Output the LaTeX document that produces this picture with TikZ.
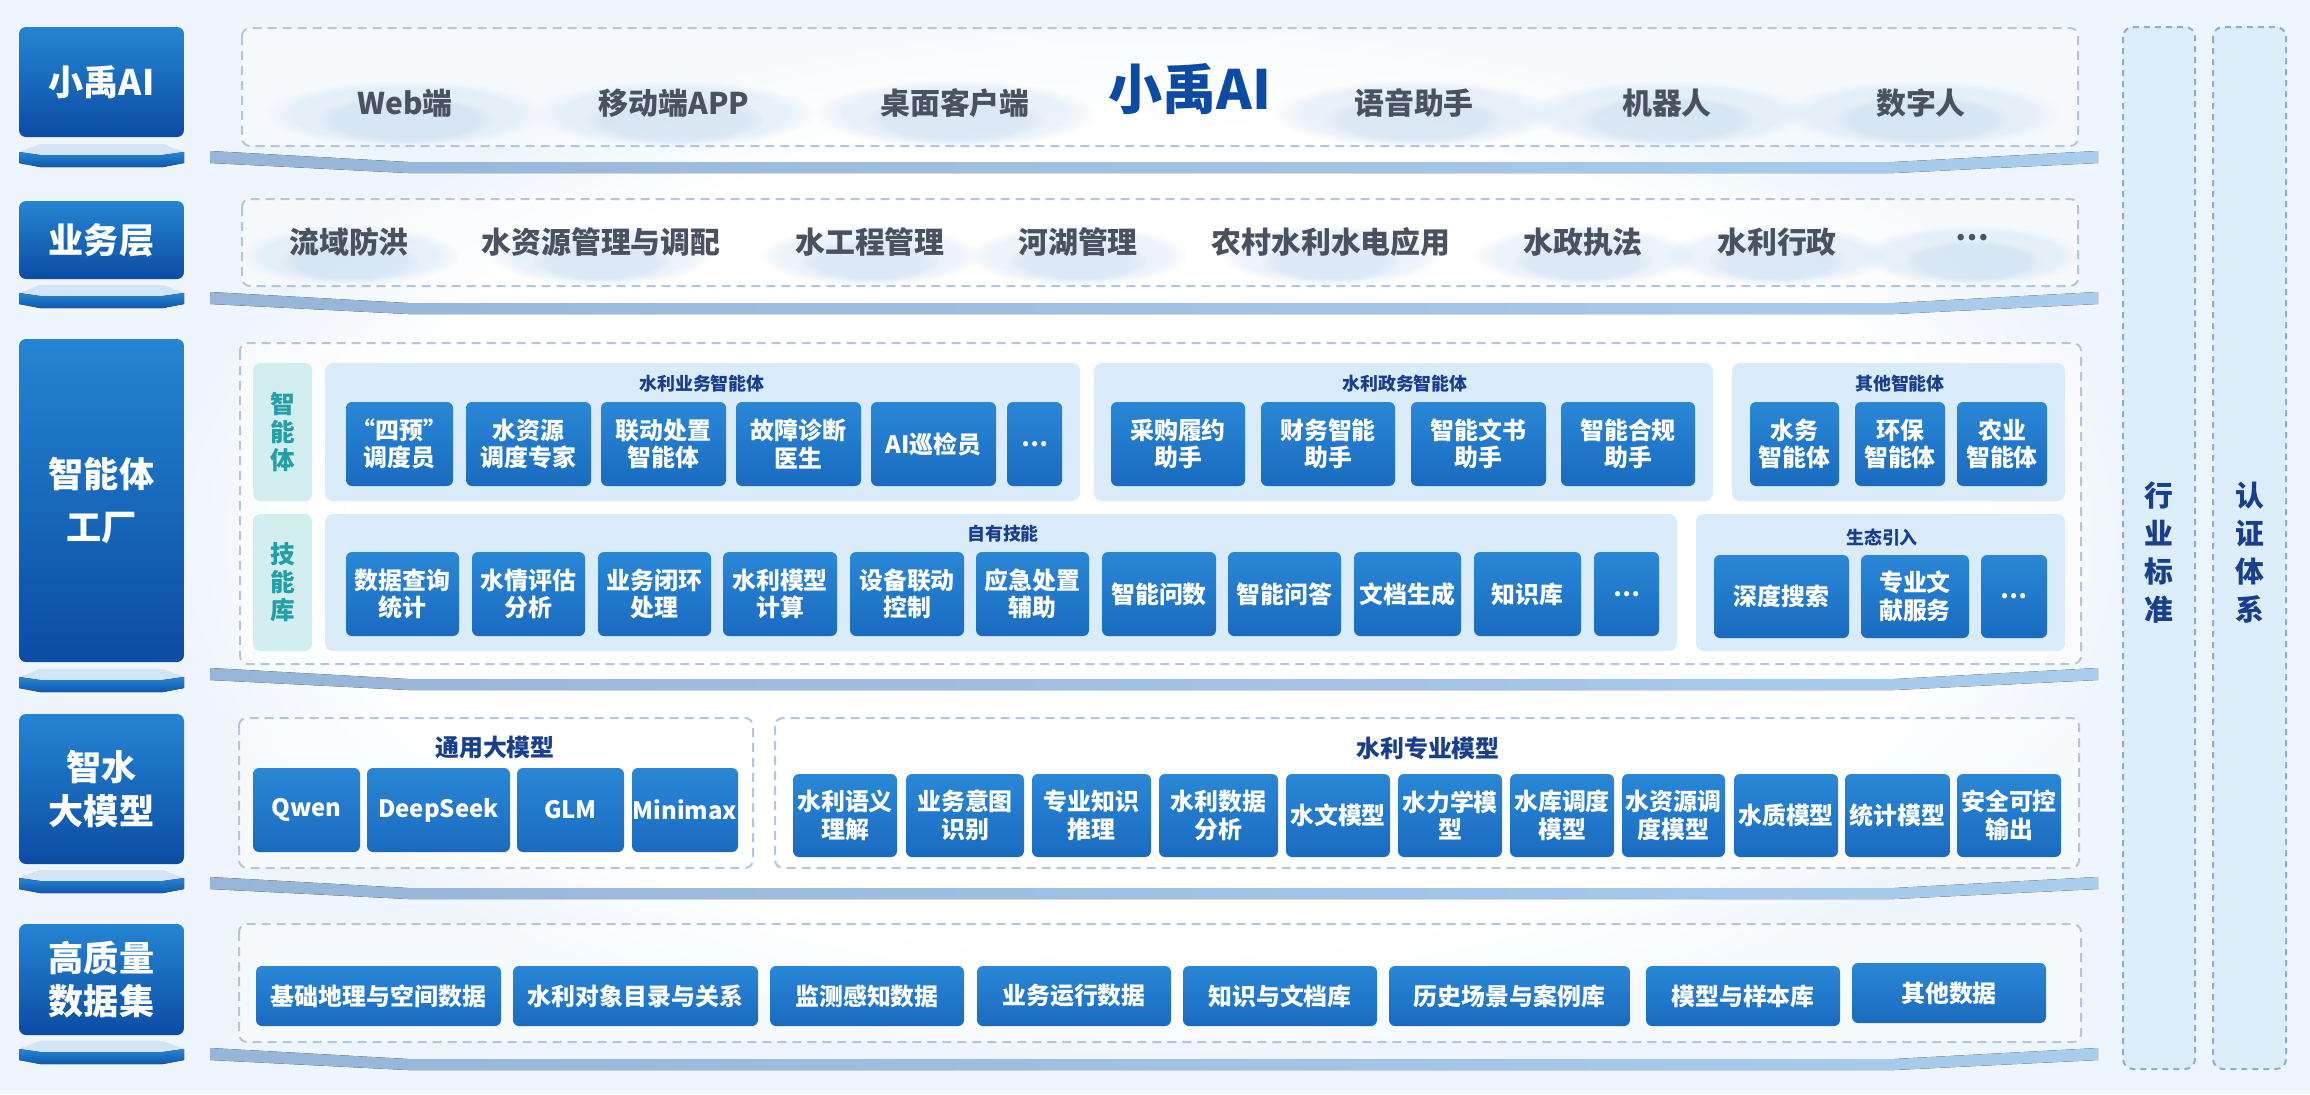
\documentclass[tikz,border=0pt]{standalone}
\usepackage{fontspec}
\setmainfont{Noto Sans CJK SC}
\usetikzlibrary{fadings}
\definecolor{bgblue}{HTML}{EEF5FC}
\definecolor{dashgray}{HTML}{B3C6DD}
\definecolor{shelfl}{HTML}{97B5D8}
\definecolor{shelfr}{HTML}{AACDEE}
\definecolor{labtop}{HTML}{2585D2}
\definecolor{labbot}{HTML}{0B4CA4}
\definecolor{plinthtop}{HTML}{D2E4F6}
\definecolor{btntop}{HTML}{2A87D6}
\definecolor{btnbot}{HTML}{1A6BC0}
\definecolor{panelblue}{HTML}{DAEBFA}
\definecolor{sidefill}{HTML}{D3EEF0}
\definecolor{sideteal}{HTML}{22A0A8}
\definecolor{titleblue}{HTML}{173F8E}
\definecolor{rowgray}{HTML}{4A5262}
\definecolor{bigblue}{HTML}{0C4BA3}
\definecolor{colfill}{HTML}{DDEEFB}
\definecolor{colline}{HTML}{8AAED4}
\definecolor{cloud}{HTML}{A9C9EA}
\begin{document}
\begin{tikzpicture}[x=1cm, y=-1cm,
    lab/.style={rounded corners=0.07cm, top color=labtop, bottom color=labbot, text=white,
        align=center, inner sep=0pt, font=\bfseries\fontsize{10}{12.3}\selectfont},
    btn/.style={rounded corners=0.06cm, top color=btntop, bottom color=btnbot, text=white,
        align=center, inner sep=0pt, font=\bfseries\fontsize{6.8}{7.8}\selectfont},
    frame/.style={draw=dashgray, line width=0.02cm, dash pattern=on 0.09cm off 0.06cm,
        rounded corners=0.08cm, fill=white, fill opacity=0.55},
    panel/.style={fill=panelblue, rounded corners=0.08cm},
    puff/.style={cloud, opacity=0.22, path fading=circle with fuzzy edge 20 percent},
    rowtext/.style={text=rowgray, font=\bfseries\fontsize{8.5}{10}\selectfont},
    grptitle/.style={text=titleblue, font=\bfseries\fontsize{5.1}{6}\selectfont},
    mdltitle/.style={text=titleblue, font=\bfseries\fontsize{6.8}{8}\selectfont},
    sidelab/.style={text=sideteal, align=center, font=\bfseries\fontsize{7}{8}\selectfont},
    coltext/.style={text=titleblue, align=center, font=\bfseries\fontsize{8.2}{10.8}\selectfont}]
    \useasboundingbox (0,0) rectangle (23.10,10.94);
    \fill[bgblue] (0,0) rectangle (23.10,10.94);
    \fill[white, path fading=circle with fuzzy edge 20 percent] (1.5,0.2) rectangle (21.5,10.6);

    % side columns
    \draw[fill=colfill, draw=colline, line width=0.02cm, dash pattern=on 0.06cm off 0.05cm, rounded corners=0.1cm] (21.23,0.27) rectangle (21.95,10.69);
    \draw[fill=colfill, draw=colline, line width=0.02cm, dash pattern=on 0.06cm off 0.05cm, rounded corners=0.1cm] (22.13,0.27) rectangle (22.86,10.69);
    \node[coltext] (std) at (21.59,5.53) {行\\业\\标\\准};
    \node[coltext] (cert) at (22.495,5.53) {认\\证\\体\\系};

    % shelves and plinths
    \foreach \t in {1.51,2.92,6.68,8.77,10.48}
        \fill[left color=shelfl, right color=shelfr] (2.10,\t) -- (4.08,\t+0.11) -- (18.94,\t+0.11) -- (20.98,\t)
            -- (20.98,\t+0.12) -- (18.94,\t+0.22) -- (4.08,\t+0.22) -- (2.10,\t+0.12) -- cycle;
    \foreach \t in {1.44,2.85,6.69,8.70,10.41} {
        \fill[plinthtop] (0.19,\t+0.08) -- (0.40,\t) -- (1.63,\t) -- (1.84,\t+0.08)
            -- (1.63,\t+0.11) -- (0.40,\t+0.11) -- cycle;
        \fill[top color=labtop, bottom color=labbot!80!labtop] (0.19,\t+0.08) -- (0.40,\t+0.11) -- (1.63,\t+0.11) -- (1.84,\t+0.08)
            -- (1.84,\t+0.19) -- (1.63,\t+0.23) -- (0.40,\t+0.23) -- (0.19,\t+0.19) -- cycle;
    }

    % layer labels
    \node[lab, minimum width=1.65cm, minimum height=1.10cm] (lxy) at (1.015,0.82) {小禹AI};
    \node[lab, minimum width=1.65cm, minimum height=0.78cm] (lyw) at (1.015,2.40) {业务层};
    \node[lab, minimum width=1.65cm, minimum height=3.23cm, font=\bfseries\fontsize{10}{15}\selectfont] (lagent) at (1.015,5.005) {智能体\\工厂};
    \node[lab, minimum width=1.65cm, minimum height=1.50cm] (lmodel) at (1.015,7.89) {智水\\大模型};
    \node[lab, minimum width=1.65cm, minimum height=1.11cm] (ldata) at (1.015,9.795) {高质量\\数据集};

    % frames
    \draw[frame] (2.42,0.28) rectangle (20.78,1.46);
    \draw[frame] (2.42,1.99) rectangle (20.78,2.86);
    \draw[frame] (2.40,3.43) rectangle (20.81,6.64);
    \draw[frame] (2.39,7.18) rectangle (7.53,8.68);
    \draw[frame] (7.75,7.18) rectangle (20.79,8.68);
    \draw[frame] (2.39,9.24) rectangle (20.81,10.42);

    % clouds
    \foreach \cx in {4.05,6.74,9.55,14.14,16.67,19.21} {
        \fill[puff] (\cx-1.4,0.80) rectangle (\cx+1.4,1.48);
        \fill[puff] (\cx-0.9,0.95) rectangle (\cx+0.9,1.44);
    }
    \foreach \cx in {3.49,6.01,8.70,10.78,13.31,15.83,17.77,19.72} {
        \fill[puff] (\cx-1.1,2.25) rectangle (\cx+1.1,2.86);
        \fill[puff] (\cx-0.7,2.40) rectangle (\cx+0.7,2.82);
    }

    % top row
    \node[rowtext] (web) at (4.05,1.03) {Web端};
    \node[rowtext] (mobile) at (6.74,1.03) {移动端APP};
    \node[rowtext] (desk) at (9.55,1.03) {桌面客户端};
    \node[text=bigblue, font=\bfseries\fontsize{15.4}{18}\selectfont] (xyai) at (11.90,0.89) {小禹AI};
    \node[rowtext] (voice) at (14.14,1.03) {语音助手};
    \node[rowtext] (robot) at (16.67,1.03) {机器人};
    \node[rowtext] (human) at (19.21,1.03) {数字人};

    % business row
    \node[rowtext] (flood) at (3.49,2.42) {流域防洪};
    \node[rowtext] (water) at (6.01,2.42) {水资源管理与调配};
    \node[rowtext] (proj) at (8.70,2.42) {水工程管理};
    \node[rowtext] (river) at (10.78,2.42) {河湖管理};
    \node[rowtext] (rural) at (13.31,2.42) {农村水利水电应用};
    \node[rowtext] (law) at (15.83,2.42) {水政执法};
    \node[rowtext] (admin) at (17.77,2.42) {水利行政};
    \node[rowtext] (more) at (19.72,2.38) {…};

    % agent factory
    \fill[sidefill, rounded corners=0.07cm] (2.53,3.63) rectangle (3.12,5.01);
    \fill[sidefill, rounded corners=0.07cm] (2.53,5.14) rectangle (3.12,6.51);
    \node[sidelab] (sagent) at (2.825,4.32) {智\\能\\体};
    \node[sidelab] (sskill) at (2.825,5.825) {技\\能\\库};
    \fill[panel] (3.25,3.63) rectangle (10.80,5.01);
    \fill[panel] (10.94,3.63) rectangle (17.13,5.01);
    \fill[panel] (17.32,3.63) rectangle (20.65,5.01);
    \fill[panel] (3.25,5.14) rectangle (16.77,6.51);
    \fill[panel] (16.96,5.14) rectangle (20.65,6.51);
    \node[grptitle] (tyw) at (7.02,3.84) {水利业务智能体};
    \node[grptitle] (tzw) at (14.05,3.84) {水利政务智能体};
    \node[grptitle] (tqt) at (19.00,3.84) {其他智能体};
    \node[grptitle] (tzy) at (10.03,5.34) {自有技能};
    \node[grptitle] (tst) at (18.82,5.38) {生态引入};

    \node[btn, minimum width=1.07cm, minimum height=0.84cm] (a1) at (3.995,4.44) {“四预”\\调度员};
    \node[btn, minimum width=1.25cm, minimum height=0.84cm] (a2) at (5.285,4.44) {水资源\\调度专家};
    \node[btn, minimum width=1.25cm, minimum height=0.84cm] (a3) at (6.635,4.44) {联动处置\\智能体};
    \node[btn, minimum width=1.25cm, minimum height=0.84cm] (a4) at (7.985,4.44) {故障诊断\\医生};
    \node[btn, minimum width=1.25cm, minimum height=0.84cm] (a5) at (9.335,4.44) {AI巡检员};
    \node[btn, minimum width=0.55cm, minimum height=0.84cm] (a6) at (10.345,4.44) {…};
    \node[btn, minimum width=1.34cm, minimum height=0.84cm] (b1) at (11.78,4.44) {采购履约\\助手};
    \node[btn, minimum width=1.34cm, minimum height=0.84cm] (b2) at (13.28,4.44) {财务智能\\助手};
    \node[btn, minimum width=1.35cm, minimum height=0.84cm] (b3) at (14.785,4.44) {智能文书\\助手};
    \node[btn, minimum width=1.34cm, minimum height=0.84cm] (b4) at (16.28,4.44) {智能合规\\助手};
    \node[btn, minimum width=0.89cm, minimum height=0.84cm] (c1) at (17.945,4.44) {水务\\智能体};
    \node[btn, minimum width=0.90cm, minimum height=0.84cm] (c2) at (19.00,4.44) {环保\\智能体};
    \node[btn, minimum width=0.90cm, minimum height=0.84cm] (c3) at (20.02,4.44) {农业\\智能体};

    \node[btn, minimum width=1.13cm, minimum height=0.84cm] (s1) at (4.025,5.94) {数据查询\\统计};
    \node[btn, minimum width=1.13cm, minimum height=0.84cm] (s2) at (5.285,5.94) {水情评估\\分析};
    \node[btn, minimum width=1.13cm, minimum height=0.84cm] (s3) at (6.545,5.94) {业务闭环\\处理};
    \node[btn, minimum width=1.14cm, minimum height=0.84cm] (s4) at (7.80,5.94) {水利模型\\计算};
    \node[btn, minimum width=1.14cm, minimum height=0.84cm] (s5) at (9.07,5.94) {设备联动\\控制};
    \node[btn, minimum width=1.13cm, minimum height=0.84cm] (s6) at (10.325,5.94) {应急处置\\辅助};
    \node[btn, minimum width=1.14cm, minimum height=0.84cm] (s7) at (11.59,5.94) {智能问数};
    \node[btn, minimum width=1.13cm, minimum height=0.84cm] (s8) at (12.845,5.94) {智能问答};
    \node[btn, minimum width=1.07cm, minimum height=0.84cm] (s9) at (14.075,5.94) {文档生成};
    \node[btn, minimum width=1.07cm, minimum height=0.84cm] (s10) at (15.275,5.94) {知识库};
    \node[btn, minimum width=0.65cm, minimum height=0.84cm] (s11) at (16.265,5.94) {…};
    \node[btn, minimum width=1.35cm, minimum height=0.83cm] (e1) at (17.815,5.965) {深度搜索};
    \node[btn, minimum width=1.08cm, minimum height=0.83cm] (e2) at (19.15,5.965) {专业文\\献服务};
    \node[btn, minimum width=0.66cm, minimum height=0.83cm] (e3) at (20.14,5.965) {…};

    % models
    \node[mdltitle] (tgen) at (4.95,7.47) {通用大模型};
    \node[mdltitle] (tpro) at (14.28,7.48) {水利专业模型};
    \node[btn, minimum width=1.07cm, minimum height=0.84cm] (g1) at (3.065,8.10) {Qwen};
    \node[btn, minimum width=1.43cm, minimum height=0.84cm] (g2) at (4.385,8.10) {DeepSeek};
    \node[btn, minimum width=1.07cm, minimum height=0.84cm] (g3) at (5.705,8.10) {GLM};
    \node[btn, minimum width=1.06cm, minimum height=0.84cm] (g4) at (6.85,8.10) {Minimax};
    \node[btn, minimum width=1.04cm, minimum height=0.83cm] (m1) at (8.45,8.155) {水利语义\\理解};
    \node[btn, minimum width=1.18cm, minimum height=0.83cm] (m2) at (9.65,8.155) {业务意图\\识别};
    \node[btn, minimum width=1.19cm, minimum height=0.83cm] (m3) at (10.915,8.155) {专业知识\\推理};
    \node[btn, minimum width=1.19cm, minimum height=0.83cm] (m4) at (12.185,8.155) {水利数据\\分析};
    \node[btn, minimum width=1.04cm, minimum height=0.83cm] (m5) at (13.38,8.155) {水文模型};
    \node[btn, minimum width=1.04cm, minimum height=0.83cm] (m6) at (14.50,8.155) {水力学模\\型};
    \node[btn, minimum width=1.04cm, minimum height=0.83cm] (m7) at (15.62,8.155) {水库调度\\模型};
    \node[btn, minimum width=1.03cm, minimum height=0.83cm] (m8) at (16.735,8.155) {水资源调\\度模型};
    \node[btn, minimum width=1.04cm, minimum height=0.83cm] (m9) at (17.86,8.155) {水质模型};
    \node[btn, minimum width=1.05cm, minimum height=0.83cm] (m10) at (18.975,8.155) {统计模型};
    \node[btn, minimum width=1.04cm, minimum height=0.83cm] (m11) at (20.09,8.155) {安全可控\\输出};

    % data
    \node[btn, minimum width=2.45cm, minimum height=0.60cm] (d1) at (3.785,9.96) {基础地理与空间数据};
    \node[btn, minimum width=2.45cm, minimum height=0.60cm] (d2) at (6.355,9.96) {水利对象目录与关系};
    \node[btn, minimum width=1.94cm, minimum height=0.60cm] (d3) at (8.67,9.96) {监测感知数据};
    \node[btn, minimum width=1.94cm, minimum height=0.60cm] (d4) at (10.74,9.96) {业务运行数据};
    \node[btn, minimum width=1.94cm, minimum height=0.60cm] (d5) at (12.80,9.96) {知识与文档库};
    \node[btn, minimum width=2.41cm, minimum height=0.60cm] (d6) at (15.095,9.96) {历史场景与案例库};
    \node[btn, minimum width=1.94cm, minimum height=0.60cm] (d7) at (17.43,9.96) {模型与样本库};
    \node[btn, minimum width=1.94cm, minimum height=0.60cm] (d8) at (19.49,9.93) {其他数据};
\end{tikzpicture}
\end{document}
